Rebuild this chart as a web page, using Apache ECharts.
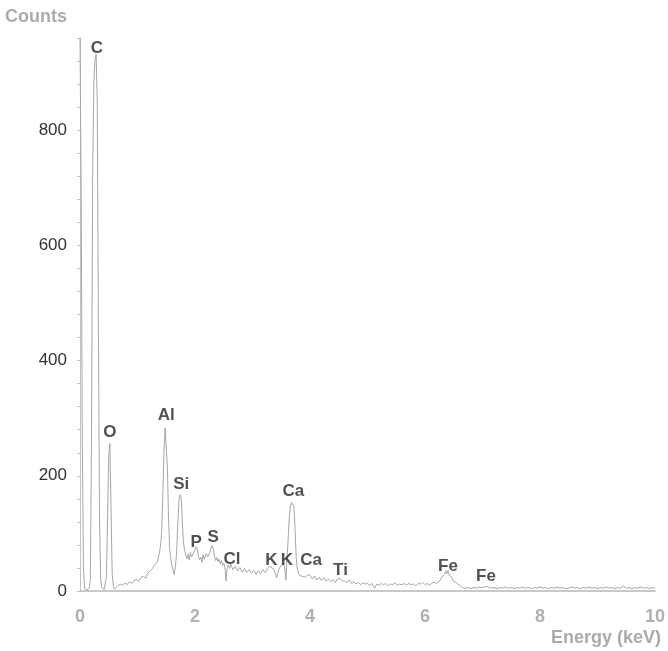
<!DOCTYPE html>
<html>
<head>
<meta charset="utf-8">
<script src="https://cdn.jsdelivr.net/npm/echarts@6/dist/echarts.min.js"></script>
<style>
html,body{margin:0;padding:0;background:#fff;}
#chart{width:668px;height:651px;}
</style>
</head>
<body>
<div id="chart"></div>
<script>
// Energy (keV) sample positions
var energy = [
  0.00,0.02,0.04,0.06,0.08,0.10,0.12,0.14,0.16,0.18,0.20,0.22,0.24,0.26,0.28,0.30,0.32,0.34,0.36,0.38,0.40,0.42,0.44,0.46,0.48,0.50,0.52,0.54,0.56,0.58,0.60,
  0.62,0.66,0.70,0.74,0.78,0.82,0.86,0.90,0.94,0.98,1.02,1.06,1.10,1.14,1.18,1.22,1.26,1.30,1.34,
  1.36,1.38,1.40,1.42,1.44,1.46,1.48,1.50,1.52,1.54,1.56,1.58,1.60,1.62,1.64,1.66,1.68,1.70,1.72,1.74,1.76,1.78,1.80,1.82,1.84,1.86,1.88,1.90,1.92,1.94,1.96,1.98,2.00,2.02,2.04,2.06,2.08,2.10,2.12,2.14,2.16,2.18,2.20,2.22,2.24,2.26,2.28,2.30,2.32,2.34,2.36,2.38,2.40,2.42,2.44,2.46,2.48,2.50,2.52,2.54,2.56,2.58,2.60,
  2.62,2.66,2.70,2.74,2.78,2.82,2.86,2.90,2.94,2.98,3.02,3.06,3.10,3.14,3.18,3.22,3.26,3.30,3.34,3.38,3.42,3.46,3.50,3.54,3.56,3.58,
  3.60,3.62,3.64,3.66,3.68,3.70,3.72,3.74,3.76,3.78,3.80,3.82,3.84,
  3.88,3.92,3.96,4.00,4.04,4.08,4.12,4.16,4.20,4.24,4.28,4.32,4.36,4.40,4.44,4.48,4.52,4.56,4.60,4.64,4.68,4.72,4.76,4.80,4.84,4.88,4.92,4.96,5.00,5.04,5.08,5.12,5.16,5.20,5.24,5.28,5.32,5.36,5.40,5.44,5.48,5.52,5.56,5.60,5.64,5.68,5.72,5.76,5.80,5.84,5.88,5.92,5.96,6.00,6.04,6.08,6.12,6.16,6.20,
  6.24,6.28,6.30,6.32,6.34,6.36,6.38,6.40,6.42,6.44,6.46,6.48,6.52,6.56,6.60,6.64,6.68,
  6.72,6.76,6.80,6.85,6.90,6.95,7.00,7.05,7.10,7.15,7.20,7.25,7.30,7.35,7.40,7.45,7.50,7.55,7.60,7.65,7.70,7.75,7.80,7.85,7.90,7.95,8.00,8.05,8.10,8.15,8.20,8.25,8.30,8.35,8.40,8.45,8.50,8.55,8.60,8.65,8.70,8.75,8.80,8.85,8.90,8.95,9.00,9.05,9.10,9.15,9.20,9.25,9.30,9.35,9.40,9.45,9.50,9.55,9.60,9.65,9.70,9.75,9.80,9.85,9.90,9.95,10.00
];
// Counts at each energy
var counts = [
  960,700,260,40,4,2,2,3,5,20,260,720,880,922,932,850,460,120,20,6,4,3,5,25,130,235,256,140,30,8,3,
  6,9,12,10,14,11,16,13,18,20,17,23,26,22,31,35,39,45,50,
  56,66,78,102,165,242,283,284,215,125,72,55,44,36,28,44,66,115,156,167,162,118,84,70,62,56,64,54,67,59,57,67,72,77,73,60,54,59,50,63,55,61,65,59,57,67,75,79,71,60,53,58,51,55,47,53,44,48,41,17,41,45,39,
  47,37,43,35,41,33,39,32,37,31,36,29,35,30,37,32,39,43,40,36,23,38,45,48,40,19,
  55,90,128,148,154,156,146,108,58,38,31,27,30,
  25,24,28,27,21,26,19,24,18,23,17,21,16,20,15,21,22,17,18,14,19,13,16,12,15,11,14,12,13,10,13,5,12,10,13,11,13,9,12,11,14,10,12,11,13,10,13,11,12,9,13,12,15,11,13,10,14,15,13,
  16,21,25,22,29,35,30,36,27,24,25,18,16,13,10,7,5,
  5,6,4,6,5,7,6,8,7,5,6,4,6,5,7,5,6,4,6,5,7,5,6,4,6,5,7,5,6,4,6,5,7,5,6,4,5,7,5,6,4,6,5,7,5,6,4,6,5,7,5,6,4,6,5,9,5,6,4,6,5,7,5,6,4,6,5
];
// Peak labels: element, energy (keV) and count level of the label centre
var peakNames  = ['C','O','Al','Si','P','S','Cl','K','K','Ca','Ca','Ti','Fe','Fe'];
var peakEnergy = [0.294,0.519,1.50,1.76,2.02,2.315,2.645,3.33,3.60,3.71,4.02,4.53,6.40,7.06];
var peakLabelY = [942,275,305,185,84,93,55,53,54,173,53,36,43,26];
// Axis ticks
var xTicks = [0,2,4,6,8,10];
var yTickLabels = [0,200,400,600,800];

var spectrum = energy.map(function(e,i){ return [e, counts[i]]; });
var labels = peakNames.map(function(n,i){ return {name:n, value:[peakEnergy[i], peakLabelY[i]]}; });

var chart = echarts.init(document.getElementById('chart'), null, {renderer:'canvas'});
chart.setOption({
  animation:false,
  backgroundColor:'#ffffff',
  grid:{left:80, right:10, top:38, bottom:60, containLabel:false},
  xAxis:{
    type:'value', min:xTicks[0], max:xTicks[xTicks.length-1], interval:2,
    axisLine:{show:true, lineStyle:{color:'#b8b8b8', width:1.5}},
    axisTick:{show:false},
    splitLine:{show:false},
    axisLabel:{color:'#b0b0b0', fontSize:18, fontWeight:'bold', fontFamily:'Liberation Sans, Arial, sans-serif', margin:17}
  },
  yAxis:{
    type:'value', min:0, max:960, interval:40,
    axisLine:{show:true, lineStyle:{color:'#c4c4c4', width:1}},
    axisTick:{show:true, length:3, lineStyle:{color:'#c4c4c4'}},
    splitLine:{show:false},
    axisLabel:{color:'#333333', fontSize:17, fontFamily:'Liberation Sans, Arial, sans-serif', margin:13,
      formatter:function(v){ return yTickLabels.indexOf(v) >= 0 ? String(v) : ''; }}
  },
  graphic:[
    {type:'text', left:5, top:8, style:{text:'Counts', fill:'#ababab', font:'bold 18px "Liberation Sans", Arial, sans-serif'}},
    {type:'text', right:7, top:629, style:{text:'Energy (keV)', fill:'#ababab', font:'bold 18px "Liberation Sans", Arial, sans-serif'}}
  ],
  series:[
    {
      type:'line', data:spectrum, showSymbol:false, silent:true,
      lineStyle:{color:'#a6a6a6', width:1}, z:2
    },
    {
      type:'scatter', data:labels, symbolSize:1, silent:true,
      itemStyle:{color:'transparent'},
      label:{show:true, position:'inside', formatter:'{b}', color:'#262626', fontSize:17, fontWeight:'bold',
        fontFamily:'Liberation Sans, Arial, sans-serif'},
      z:3
    }
  ]
});
</script>
</body>
</html>
